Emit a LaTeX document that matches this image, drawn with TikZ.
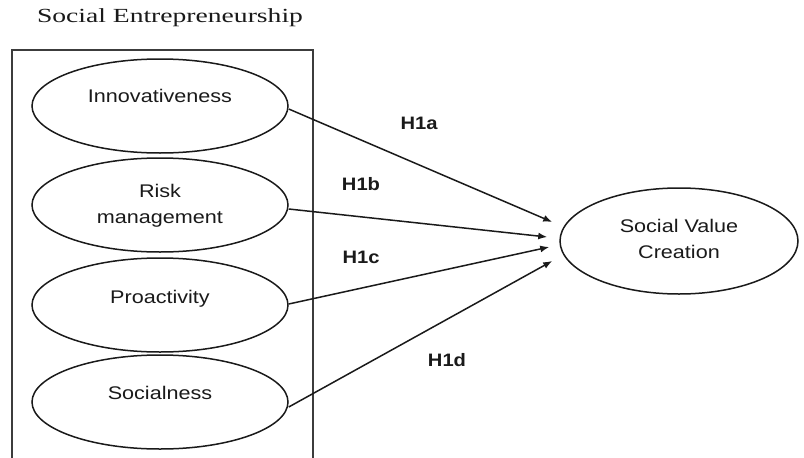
\documentclass[tikz,border=0pt]{standalone}
\usepackage{fontspec}
\setmainfont{Liberation Serif}
\newfontfamily\titlefont[FakeStretch=1.38]{Liberation Serif}
\newfontfamily\lblfont[FakeStretch=1.18]{Liberation Sans}
\newfontfamily\hfont[FakeStretch=1.12]{Liberation Sans}
\usetikzlibrary{shapes.geometric,arrows.meta}
\definecolor{ink}{HTML}{1A1A1A}
\begin{document}
\begin{tikzpicture}[x=1pt,y=-1pt,
  ell/.style={ellipse,draw=ink,line width=1.5pt,minimum width=256pt,minimum height=94pt,inner sep=0pt},
  bigell/.style={ellipse,draw=ink,line width=1.5pt,minimum width=238pt,minimum height=106pt,inner sep=0pt},
  txt/.style={text=ink,font=\lblfont\fontsize{18.3}{25.5}\selectfont,align=center,inner sep=0pt},
  hyp/.style={text=ink,font=\hfont\bfseries\fontsize{18}{22}\selectfont,inner sep=0pt},
  arr/.style={draw=ink,line width=1.5pt,-{Latex[length=9pt,width=7pt]}},
  frame/.style={draw=ink!85,line width=1.6pt}]
\useasboundingbox (0,0) rectangle (804,458);
\clip (0,0) rectangle (804,458);
\fill[white] (0,0) rectangle (804,458);
% title
\node[anchor=base,text=ink,inner sep=0pt,font=\titlefont\fontsize{20}{22}\selectfont] (title) at (170,22) {Social Entrepreneurship};
% frame
\draw[frame] (12,50) rectangle (313,480);
% ellipses
\node[ell] (inn) at (160,106) {};
\node[ell] (risk) at (160,205) {};
\node[ell] (pro) at (160,305) {};
\node[ell] (soc) at (160,402) {};
\node[bigell] (svc) at (679,241) {};
% texts
\node[txt,anchor=base] (innt) at (160,102) {Innovativeness};
\node[txt,anchor=base] (riskt) at (160,223) {Risk\\management};
\node[txt,anchor=base] (prot) at (160,303) {Proactivity};
\node[txt,anchor=base] (soct) at (160,399) {Socialness};
\node[txt,anchor=base] (svct) at (679,258) {Social Value\\Creation};
% arrow ends
\coordinate (t1) at ([shift={(-7,-19)}]svc.west);
\coordinate (t2) at ([shift={(-12,-4)}]svc.west);
\coordinate (t3) at ([shift={(-10,6)}]svc.west);
\coordinate (t4) at ([shift={(-7,20)}]svc.west);
\draw[arr] ([shift={(0,3)}]inn.east) -- (t1);
\draw[arr] ([shift={(0,4)}]risk.east) -- (t2);
\draw[arr] ([shift={(0,-1)}]pro.east) -- (t3);
\draw[arr] ([shift={(0,5)}]soc.east) -- (t4);
% hypothesis labels
\node[hyp] (h1a) at (419,123) {H1a};
\node[hyp] (h1b) at (361,184) {H1b};
\node[hyp] (h1c) at (361,257) {H1c};
\node[hyp] (h1d) at (447,360) {H1d};
\end{tikzpicture}
\end{document}
